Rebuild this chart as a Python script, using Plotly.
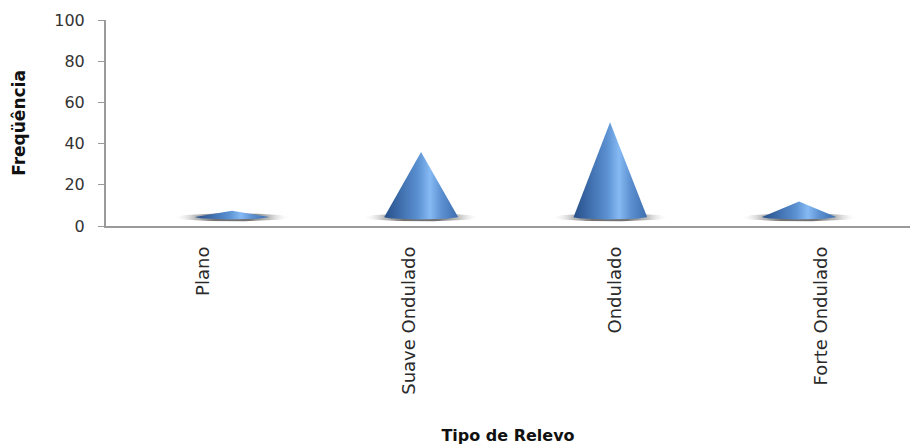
import numpy as np
import plotly.graph_objects as go

# Relief classes and their frequencies
categorias = ["Plano", "Suave Ondulado", "Ondulado", "Forte Ondulado"]
frequencias = [3, 31.5, 46, 7.5]
y_ticks = [0, 20, 40, 60, 80, 100]

# 3D-style cone geometry (axis units)
FLOOR = 4.4        # height of the chart floor where cones stand
HALF_W = 0.196     # half base width of each cone (category units)
BASE_E = 1.2       # vertical radius of the elliptical cone base
SHADOW_W = 0.31
SHADOW_E = 1.9

cone_scale = [
    [0.0, "#27508a"],
    [0.18, "#3a68a6"],
    [0.45, "#5a8fd0"],
    [0.62, "#85baf4"],
    [0.78, "#5b8fd0"],
    [1.0, "#3d6eae"],
]
shadow_scale = [
    [0.0, "rgba(255,255,255,0)"],
    [0.18, "rgba(140,140,140,0.55)"],
    [0.35, "rgba(90,90,90,0.85)"],
    [0.65, "rgba(90,90,90,0.85)"],
    [0.82, "rgba(140,140,140,0.55)"],
    [1.0, "rgba(255,255,255,0)"],
]

fig = go.Figure()
t = np.linspace(0, np.pi, 40)
full = np.linspace(0, 2 * np.pi, 80)

for i, v in enumerate(frequencias):
    # soft floor shadow under the cone
    sx = i + SHADOW_W * np.cos(full)
    sy = FLOOR - 0.2 + SHADOW_E * np.sin(full)
    fig.add_trace(go.Scatter(
        x=sx, y=sy, mode="lines", fill="toself",
        line=dict(width=0, color="rgba(0,0,0,0)"),
        fillgradient=dict(type="horizontal", colorscale=shadow_scale),
        hoverinfo="skip", showlegend=False,
    ))
    # cone body: apex, then the elliptical base front edge
    xs = [i] + list(i - HALF_W * np.cos(t)) + [i]
    ys = [FLOOR + v] + list(FLOOR - BASE_E * np.sin(t)) + [FLOOR + v]
    fig.add_trace(go.Scatter(
        x=xs, y=ys, mode="lines", fill="toself",
        line=dict(width=0, color="rgba(0,0,0,0)"),
        fillgradient=dict(type="horizontal", colorscale=cone_scale),
        hoverinfo="skip", showlegend=False,
    ))

# category labels sit on the front edge of the floor, which is wider
# in perspective than the row of cones; an overlaid axis carries them
fig.add_trace(go.Scatter(
    x=list(range(len(categorias))), y=[None] * len(categorias),
    xaxis="x2", mode="markers", hoverinfo="skip", showlegend=False,
))

axis_gray = "#9a9a9a"
fig.update_layout(
    width=910, height=445,
    margin=dict(l=106, r=0, t=20, b=219),
    paper_bgcolor="white", plot_bgcolor="white",
    showlegend=False,
    xaxis=dict(
        range=[-0.667, 3.587],
        showticklabels=False, ticks="",
        showline=True, linecolor=axis_gray, linewidth=2,
        showgrid=False, zeroline=False,
    ),
    xaxis2=dict(
        overlaying="x", side="bottom", anchor="y",
        range=[-0.471, 3.432],
        tickvals=list(range(len(categorias))),
        ticktext=categorias,
        tickangle=-90,
        tickfont=dict(family="DejaVu Sans", size=18, color="#2a2a2a"),
        ticks="", ticklabelstandoff=16,
        showline=False, showgrid=False, zeroline=False,
        title=dict(text="<b>Tipo de Relevo</b>",
                   font=dict(family="DejaVu Sans", size=16, color="#111"),
                   standoff=37),
    ),
    yaxis=dict(
        range=[0, 100],
        tickvals=y_ticks,
        tickfont=dict(family="DejaVu Sans", size=16, color="#333"),
        ticks="outside", ticklen=6, tickcolor=axis_gray, tickwidth=1,
        ticklabelstandoff=10,
        showline=True, linecolor=axis_gray, linewidth=2,
        showgrid=False, zeroline=False,
        title=dict(text="<b>Freqüência</b>",
                   font=dict(family="DejaVu Sans", size=17, color="#111"),
                   standoff=24),
    ),
)

fig.write_html("out.html")
